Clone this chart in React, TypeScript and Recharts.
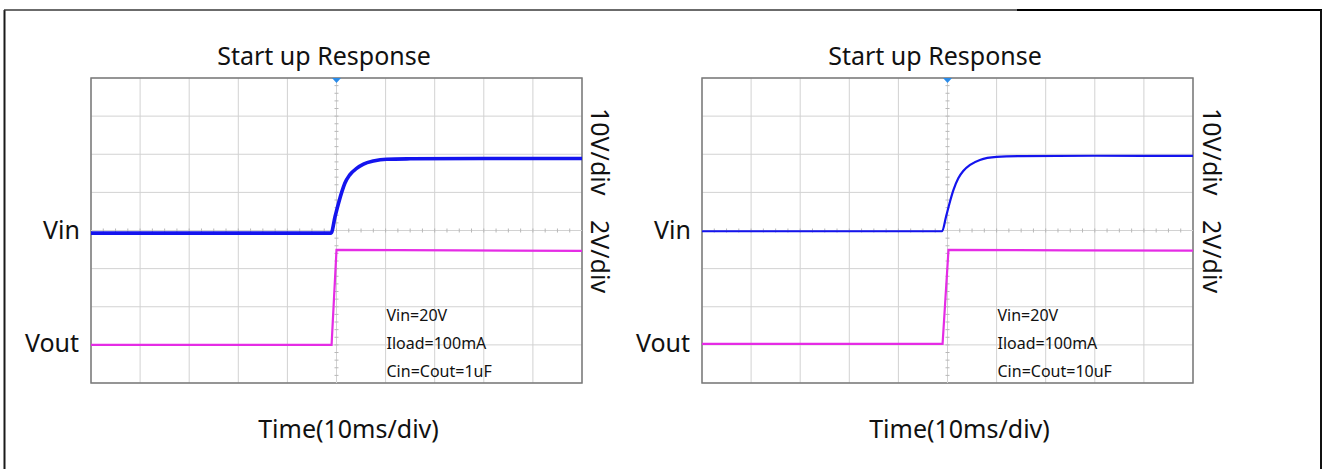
import React from "react";
import {
  LineChart,
  Line,
  XAxis,
  YAxis,
  CartesianGrid,
  ReferenceLine,
  ReferenceArea,
  ReferenceDot,
} from "recharts";

// ---- axes (time in ms, 10 ms/div; Vin 10 V/div; Vout 2 V/div) ----
const TIME_TICKS = [0, 10, 20, 30, 40, 50, 60, 70, 80, 90, 100];
const VIN_TICKS = [-40, -30, -20, -10, 0, 10, 20, 30, 40];
const VIN_DOMAIN = [-40, 40];
const VOUT_DOMAIN = [-2, 14];

// ---- left panel: Cin=Cout=1uF ----
const L_VIN_T = [0, 48.9, 49.7, 50.4, 51.1, 51.7, 52.7, 54.1, 55.5, 57.5, 60.2, 65.0, 80, 100];
const L_VIN_V = [-0.7, -0.7, 3.6, 7.1, 10.2, 12.4, 14.6, 16.3, 17.4, 18.2, 18.7, 18.8, 18.9, 18.9];
const L_VOUT_T = [0, 49.0, 50.0, 75, 100];
const L_VOUT_V = [0.0, 0.0, 4.98, 4.96, 4.93];

// ---- right panel: Cin=Cout=10uF ----
const R_VIN_T = [0, 48.9, 49.7, 50.4, 51.2, 52.2, 53.2, 54.6, 56.6, 60.0, 64.8, 80, 100];
const R_VIN_V = [-0.2, -0.2, 3.6, 7.1, 10.6, 13.7, 15.6, 17.2, 18.5, 19.3, 19.5, 19.6, 19.6];
const R_VOUT_T = [0, 49.0, 50.2, 75, 100];
const R_VOUT_V = [0.05, 0.05, 4.98, 4.96, 4.94];

// ---- text ----
const TITLE = "Start up Response";
const X_LABEL = "Time(10ms/div)";
const CH_LABELS = ["Vin", "Vout"];
const SCALE_LABELS = ["10V/div", "2V/div"];
const L_NOTES = ["Vin=20V", "Iload=100mA", "Cin=Cout=1uF"];
const R_NOTES = ["Vin=20V", "Iload=100mA", "Cin=Cout=10uF"];

const zip = (t: number[], v: number[]) => t.map((x, i) => ({ t: x, v: v[i] }));

const FONT = "'Noto Sans', 'Open Sans', sans-serif";
const BLUE = "#1414ee";
const MAGENTA = "#e52ce5";
const GRID = "#d2d2d2";
const BORDER = "#7a7a7a";

const CHART_W = 620;
const CHART_H = 469;
const MARGIN = { left: 91, top: 78, right: 38, bottom: 86 };

const VCenter = (props: any) => {
  const { x1, y1, x2, y2 } = props;
  const step = (y2 - y1) / 40;
  const ticks = [];
  for (let i = 1; i < 40; i++) {
    const y = y1 + i * step;
    ticks.push(<line key={i} x1={x1 - 2} x2={x1 + 2} y1={y} y2={y} stroke="#b8b8b8" strokeWidth={1} />);
  }
  return (
    <g>
      <line x1={x1} y1={y1} x2={x2} y2={y2} stroke={GRID} strokeWidth={1} />
      {ticks}
    </g>
  );
};

const HCenter = (props: any) => {
  const { x1, y1, x2, y2 } = props;
  const step = (x2 - x1) / 40;
  const ticks = [];
  for (let i = 1; i < 40; i++) {
    const x = x1 + i * step;
    ticks.push(<line key={i} x1={x} x2={x} y1={y1 - 2} y2={y1 + 2} stroke="#b8b8b8" strokeWidth={1} />);
  }
  return (
    <g>
      <line x1={x1} y1={y1} x2={x2} y2={y2} stroke={GRID} strokeWidth={1} />
      {ticks}
    </g>
  );
};

const Trigger = (props: any) => {
  const { cx, cy } = props;
  return <path d={`M${cx - 4.5},${cy} L${cx + 4.5},${cy} L${cx},${cy + 5} Z`} fill="#2a8be8" />;
};

function Panel({ left, vin, vout, vinWidth }: { left: number; vin: any[]; vout: any[]; vinWidth: number }) {
  return (
    <div style={{ position: "absolute", left, top: 0 }}>
      <LineChart width={CHART_W} height={CHART_H} margin={MARGIN}>
        <XAxis xAxisId="t" type="number" dataKey="t" domain={[0, 100]} ticks={TIME_TICKS} hide allowDataOverflow />
        <YAxis yAxisId="vin" type="number" domain={VIN_DOMAIN} ticks={VIN_TICKS} hide allowDataOverflow />
        <YAxis yAxisId="vout" type="number" domain={VOUT_DOMAIN} hide allowDataOverflow />
        <CartesianGrid xAxisId="t" yAxisId="vin" stroke={GRID} strokeWidth={1} />
        <ReferenceLine xAxisId="t" yAxisId="vin" x={50} shape={VCenter} />
        <ReferenceLine xAxisId="t" yAxisId="vin" y={0} shape={HCenter} />
        <ReferenceArea
          xAxisId="t"
          yAxisId="vin"
          x1={0}
          x2={100}
          y1={-40}
          y2={40}
          fill="none"
          fillOpacity={0}
          stroke={BORDER}
          strokeWidth={1.5}
        />
        <Line
          xAxisId="t"
          yAxisId="vout"
          data={vout}
          dataKey="v"
          type="linear"
          stroke={MAGENTA}
          strokeWidth={2.2}
          dot={false}
          isAnimationActive={false}
        />
        <Line
          xAxisId="t"
          yAxisId="vin"
          data={vin}
          dataKey="v"
          type="monotone"
          stroke={BLUE}
          strokeWidth={vinWidth}
          dot={false}
          isAnimationActive={false}
        />
        <ReferenceDot xAxisId="t" yAxisId="vin" x={50} y={40} r={4} shape={Trigger} />
      </LineChart>
    </div>
  );
}

function PanelText({ dx, notes, rotX }: { dx: number; notes: string[]; rotX: number }) {
  return (
    <g fontFamily={FONT} fill="#111">
      <text x={324 + dx} y={65} fontSize={25} textAnchor="middle">{TITLE}</text>
      <text x={80 + dx} y={239} fontSize={25} textAnchor="end">{CH_LABELS[0]}</text>
      <text x={79 + dx} y={352} fontSize={25} textAnchor="end">{CH_LABELS[1]}</text>
      <text x={348.5 + dx} y={438} fontSize={25} textAnchor="middle">{X_LABEL}</text>
      <text transform={`translate(${rotX},108) rotate(90)`} fontSize={25}>{SCALE_LABELS[0]}</text>
      <text transform={`translate(${rotX},220) rotate(90)`} fontSize={25}>{SCALE_LABELS[1]}</text>
      {notes.map((n, i) => (
        <text key={n} x={386.5 + dx} y={320.7 + i * 27.9} fontSize={16}>{n}</text>
      ))}
    </g>
  );
}

export default function App() {
  return (
    <div style={{ position: "absolute", left: 0, top: 0, width: 1323, height: 469, background: "#fff", overflow: "hidden" }}>
      <svg width={1323} height={469} style={{ position: "absolute", left: 0, top: 0 }}>
        <line x1={4.5} y1={10} x2={4.5} y2={469} stroke="#1a1a1a" strokeWidth={2} />
        <line x1={4} y1={10} x2={1322} y2={10} stroke="#3a3a3a" strokeWidth={1.3} />
        <line x1={1017} y1={10} x2={1322} y2={10} stroke="#000" strokeWidth={2.2} />
        <line x1={1321} y1={10} x2={1321} y2={469} stroke="#111" strokeWidth={2} />
      </svg>
      <Panel left={0} vin={zip(L_VIN_T, L_VIN_V)} vout={zip(L_VOUT_T, L_VOUT_V)} vinWidth={3.6} />
      <Panel left={611} vin={zip(R_VIN_T, R_VIN_V)} vout={zip(R_VOUT_T, R_VOUT_V)} vinWidth={2.2} />
      <svg width={1323} height={469} style={{ position: "absolute", left: 0, top: 0, pointerEvents: "none" }}>
        <PanelText dx={0} notes={L_NOTES} rotX={591} />
        <PanelText dx={611} notes={R_NOTES} rotX={1203} />
      </svg>
    </div>
  );
}
